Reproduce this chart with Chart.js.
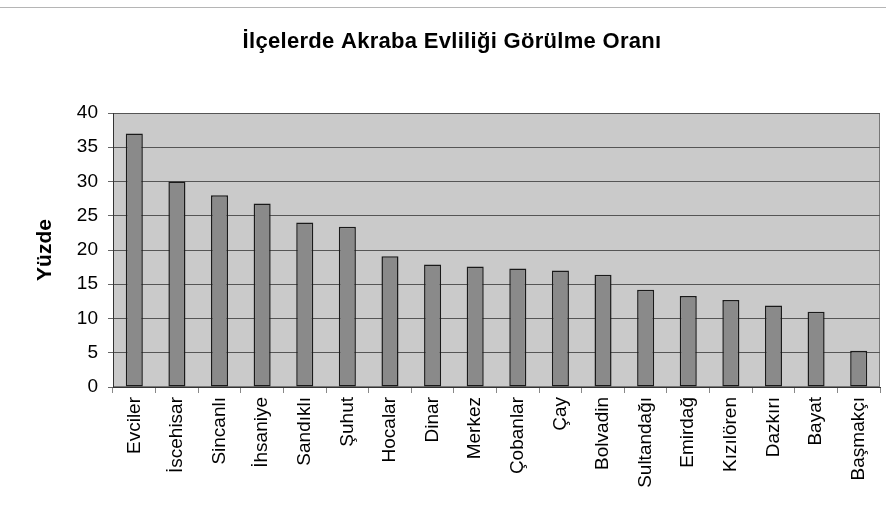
<!DOCTYPE html>
<html>
<head>
<meta charset="utf-8">
<script src="https://cdn.jsdelivr.net/npm/chart.js@4"></script>
<style>
  html, body { margin: 0; padding: 0; background: #fff; }
  #wrap { width: 886px; height: 520px; position: relative; }
</style>
</head>
<body>
<div id="wrap"><canvas id="grafik"></canvas></div>
<script>
const ilceler = ["Evciler", "İscehisar", "Sincanlı", "İhsaniye", "Sandıklı", "Şuhut", "Hocalar", "Dinar", "Merkez",
  "Çobanlar", "Çay", "Bolvadin", "Sultandağı", "Emirdağ", "Kızılören", "Dazkırı", "Bayat", "Başmakçı"];
const oranlar = [37.0, 30.0, 28.0, 26.8, 24.0, 23.4, 19.1, 17.9, 17.6, 17.3, 17.0, 16.4, 14.2, 13.3, 12.7, 11.9, 11.0, 5.3];
const yuzdeTicks = [0, 5, 10, 15, 20, 25, 30, 35, 40];
const baslik = "İlçelerde Akraba Evliliği Görülme Oranı";

const fontAile = "'Liberation Sans', Arial, sans-serif";

// cizim alani arka plani + baslik (harf araligi icin elle)
const alanArkaPlan = {
  id: "alanArkaPlan",
  beforeDraw(chart) {
    const { ctx, chartArea: a } = chart;
    ctx.save();
    ctx.fillStyle = "#cacaca";
    ctx.fillRect(a.left, a.top, a.right - a.left, a.bottom - a.top);
    ctx.strokeStyle = "#777";
    ctx.lineWidth = 1;
    ctx.strokeRect(a.left + 0.5, a.top + 0.5, a.right - a.left - 1, a.bottom - a.top - 1);

    // ust kenar cizgisi (orijinal grafik cercevesi)
    ctx.strokeStyle = "#b5b5b5";
    ctx.beginPath();
    ctx.moveTo(0, 7.5);
    ctx.lineTo(chart.width, 7.5);
    ctx.stroke();

    ctx.fillStyle = "#000";
    ctx.font = "bold 22px " + fontAile;
    ctx.letterSpacing = "0.3px";
    ctx.textAlign = "center";
    ctx.textBaseline = "alphabetic";
    ctx.fillText(baslik, 452, 48);
    ctx.restore();
  }
};

new Chart(document.getElementById("grafik"), {
  type: "bar",
  data: {
    labels: ilceler,
    datasets: [{
      data: oranlar,
      backgroundColor: "#8a8a8a",
      borderColor: "#1a1a1a",
      borderWidth: 1.5,
      borderSkipped: false,
      barPercentage: 0.8,
      categoryPercentage: 0.5
    }]
  },
  options: {
    responsive: true,
    maintainAspectRatio: false,
    animation: false,
    layout: { padding: { left: 33, right: 6, top: 113, bottom: 0 } },
    plugins: {
      legend: { display: false },
      tooltip: { enabled: false },
      title: { display: false }
    },
    scales: {
      x: {
        grid: { display: true, drawOnChartArea: false, tickLength: 6, color: "#888" },
        border: { color: "#333", width: 1 },
        ticks: {
          color: "#000",
          font: { family: fontAile, size: 19 },
          maxRotation: 90,
          minRotation: 90,
          autoSkip: false,
          padding: 4
        },
        afterFit(scale) { scale.height = 133; }
      },
      y: {
        min: 0,
        max: 40,
        afterBuildTicks(scale) { scale.ticks = yuzdeTicks.map(v => ({ value: v })); },
        grid: { color: "#555", tickLength: 5, tickColor: "#666" },
        border: { color: "#333", width: 1 },
        ticks: {
          color: "#000",
          font: { family: fontAile, size: 19 },
          padding: 10
        },
        title: {
          display: true,
          text: "Yüzde",
          color: "#000",
          font: { family: fontAile, size: 21, weight: "bold" },
          padding: { top: 0, bottom: 4 }
        },
        afterFit(scale) { scale.width = 80; }
      }
    }
  },
  plugins: [alanArkaPlan]
});
</script>
</body>
</html>
